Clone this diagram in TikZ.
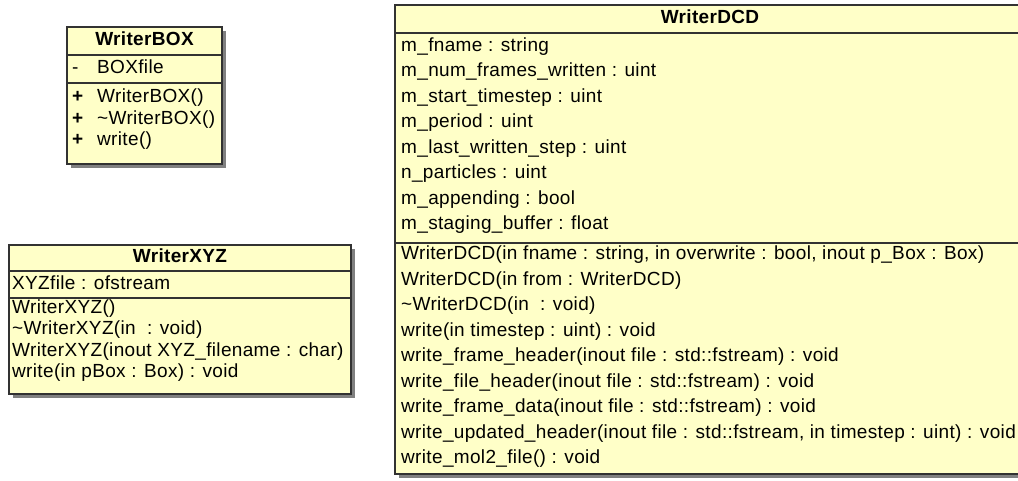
\documentclass[tikz,border=0pt]{standalone}
\usepackage{fontspec}
\setmainfont{Liberation Sans}[LetterSpace=1.8]
\definecolor{umlyellow}{RGB}{255,255,200}
\definecolor{umlline}{RGB}{50,50,50}
\definecolor{umlshadow}{RGB}{128,128,128}
\tikzset{
  classbox/.style={fill=umlyellow, draw=umlline, line width=1.3pt},
  shadowbox/.style={fill=umlshadow, draw=none},
  sepline/.style={draw=umlline, line width=1.3pt},
  txt/.style={anchor=west, inner sep=0pt, text height=13.5pt, text depth=4pt, font=\fontsize{19}{19}\selectfont},
  hdr/.style={inner sep=0pt, text height=13.5pt, text depth=4pt, font=\fontsize{19}{19}\selectfont\bfseries}
}
\begin{document}
\begin{tikzpicture}[x=1pt,y=-1pt]
\useasboundingbox (0,0) rectangle (1018,481);
\clip (0,0) rectangle (1018,481);
\fill[white] (0,0) rectangle (1018,481);

% ---------- WriterBOX ----------
\fill[shadowbox] (71,31) rectangle (226,168);
\draw[classbox] (67,27) rectangle (222,164);
\draw[sepline] (67,55) -- (222,55);
\draw[sepline] (67,83) -- (222,83);
\node[hdr] (boxH) at (144.5,41) {WriterBOX};
\node[txt] (boxAm) at (72,69) {-};
\node[txt] (boxA) at (97,69) {BOXfile};
\node[txt] (boxO1m) at (72,98) {\textbf{+}};
\node[txt] (boxO1) at (97,98) {WriterBOX()};
\node[txt] (boxO2m) at (72,120) {\textbf{+}};
\node[txt] (boxO2) at (97,120) {\textasciitilde WriterBOX()};
\node[txt] (boxO3m) at (72,141) {\textbf{+}};
\node[txt] (boxO3) at (97,141) {write()};

% ---------- WriterXYZ ----------
\fill[shadowbox] (13,249) rectangle (355,398);
\draw[classbox] (9,245) rectangle (351,394);
\draw[sepline] (9,271) -- (351,271);
\draw[sepline] (9,298) -- (351,298);
\node[hdr] (xyzH) at (180,258) {WriterXYZ};
\node[txt] (xyzA) at (12,285) {XYZfile : ofstream};
\node[txt] (xyzO1) at (12,309) {WriterXYZ()};
\node[txt] (xyzO2) at (12,330) {\textasciitilde WriterXYZ(in\ \ : void)};
\node[txt] (xyzO3) at (12,352) {WriterXYZ(inout XYZ\_filename : char)};
\node[txt] (xyzO4) at (12,373) {write(in pBox : Box) : void};

% ---------- WriterDCD ----------
\fill[shadowbox] (399,9) rectangle (1040,478);
\draw[classbox] (395,5) rectangle (1035,474);
\draw[sepline] (395,33) -- (1035,33);
\draw[sepline] (395,243) -- (1035,243);
\node[hdr] (dcdH) at (710,19) {WriterDCD};
\node[txt] (dcdA1) at (401,46.5) {m\_fname : string};
\node[txt] (dcdA2) at (401,72) {m\_num\_frames\_written : uint};
\node[txt] (dcdA3) at (401,97.5) {m\_start\_timestep : uint};
\node[txt] (dcdA4) at (401,123) {m\_period : uint};
\node[txt] (dcdA5) at (401,148.5) {m\_last\_written\_step : uint};
\node[txt] (dcdA6) at (401,174) {n\_particles : uint};
\node[txt] (dcdA7) at (401,199.5) {m\_appending : bool};
\node[txt] (dcdA8) at (401,225) {m\_staging\_buffer : float};
\node[txt] (dcdO1) at (401,255) {WriterDCD(in fname : string, in overwrite : bool, inout p\_Box : Box)};
\node[txt] (dcdO2) at (401,280.5) {WriterDCD(in from : WriterDCD)};
\node[txt] (dcdO3) at (401,306) {\textasciitilde WriterDCD(in\ \ : void)};
\node[txt] (dcdO4) at (401,331.5) {write(in timestep : uint) : void};
\node[txt] (dcdO5) at (401,357) {write\_frame\_header(inout file : std::fstream) : void};
\node[txt] (dcdO6) at (401,382.5) {write\_file\_header(inout file : std::fstream) : void};
\node[txt] (dcdO7) at (401,408) {write\_frame\_data(inout file : std::fstream) : void};
\node[txt] (dcdO8) at (401,433.5) {write\_updated\_header(inout file : std::fstream, in timestep : uint) : void};
\node[txt] (dcdO9) at (401,459) {write\_mol2\_file() : void};
\end{tikzpicture}
\end{document}
